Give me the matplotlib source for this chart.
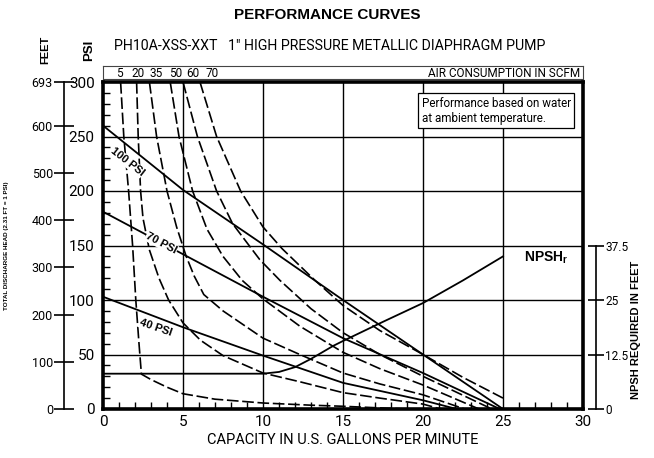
import matplotlib
matplotlib.use("Agg")
import matplotlib.pyplot as plt

# --- data (gpm, psi) ---
scfm_labels = ["5", "20", "35", "50", "60", "70"]

scfm5_x = [1.1, 1.3, 1.6, 1.85, 2.05, 2.25, 2.4, 3.0, 4.0, 5.0, 7.0, 10.0, 13.0, 15.0, 17.0, 19.0]
scfm5_y = [300, 250, 200, 150, 100, 60, 32, 27, 20, 14, 9, 5.5, 3.5, 2.5, 1.2, 0]

scfm20_x = [2.1, 2.2, 2.35, 2.5, 2.9, 3.5, 4.1, 5.0, 6.1, 7.5, 10.0, 12.3, 15.0, 17.3, 20.0, 21.1]
scfm20_y = [300, 250, 200, 175, 146, 120, 100, 79, 63, 49, 33, 25, 15, 10, 4.5, 0]

scfm35_x = [2.9, 3.35, 4.0, 4.6, 5.2, 5.7, 6.3, 7.5, 10.0, 12.3, 15.0, 17.3, 20.0, 22.6]
scfm35_y = [300, 250, 200, 167, 140, 122, 105, 90, 65, 50, 33, 23, 13, 0]

scfm50_x = [4.2, 4.75, 5.6, 6.5, 7.5, 8.7, 10.0, 12.3, 15.0, 17.3, 20.0, 23.5]
scfm50_y = [300, 250, 200, 165, 140, 118, 101, 76, 52, 37, 22, 0]

scfm60_x = [5.0, 5.9, 7.1, 8.1, 9.8, 11.06, 13.0, 15.0, 17.3, 20.0, 24.3]
scfm60_y = [300, 250, 200, 170, 137, 118, 92, 70, 50, 30, 0]

scfm70_x = [6.06, 7.1, 8.6, 10.0, 11.2, 13.25, 15.0, 17.3, 20.0, 22.5, 25.0]
scfm70_y = [300, 250, 200, 167, 147, 118, 95, 72, 50, 29, 10]

psi100_x = [0, 5, 10, 15, 20, 25]
psi100_y = [260, 201, 151, 100, 50, 0]
psi70_x = [0, 5, 10, 15, 20, 24.8]
psi70_y = [181, 142, 103, 65, 33, 0]
psi40_x = [0, 5, 10, 15, 20, 22.1]
psi40_y = [103, 75, 49, 24, 8, 0]

# NPSH required (gpm, feet)
npsh_x = [0, 10, 11, 12, 13, 14.4, 15, 17.5, 20, 22.5, 25]
npsh_y = [8.1, 8.1, 8.5, 9.6, 11.5, 14.5, 15.6, 20.0, 24.3, 29.5, 35.0]

feet_ticks = [0, 100, 200, 300, 400, 500, 600, 693]
npsh_ticks = [0, 12.5, 25, 37.5]

FT_PER_PSI = 2.31

REG = ['Roboto', 'DejaVu Sans']
BOLD = ['Liberation Sans', 'DejaVu Sans']

plt.rcParams['font.family'] = REG
plt.rcParams['axes.linewidth'] = 2.6

fig = plt.figure(figsize=(6.54, 4.58), dpi=100)
fig.set_facecolor('white')

ax = fig.add_axes([103/654, 49/458, 480/654, 327/458])
ax.set_xlim(0, 30)
ax.set_ylim(0, 300)

# grid
for g in range(5, 30, 5):
    ax.axvline(g, color='black', lw=1.0, zorder=1)
for g in range(50, 300, 50):
    ax.axhline(g, color='black', lw=1.0, zorder=1)

dash = (0, (7, 2.2))
curves = [(scfm5_x, scfm5_y), (scfm20_x, scfm20_y), (scfm35_x, scfm35_y),
          (scfm50_x, scfm50_y), (scfm60_x, scfm60_y), (scfm70_x, scfm70_y)]
for cx, cy in curves:
    ax.plot(cx, cy, color='black', lw=1.2, linestyle=dash, zorder=3)

for cx, cy in [(psi100_x, psi100_y), (psi70_x, psi70_y), (psi40_x, psi40_y)]:
    ax.plot(cx, cy, color='black', lw=1.3, zorder=3)

# pressure labels
lab_font = dict(fontsize=8, fontweight='bold', family=BOLD, ha='center', va='center',
                zorder=4, bbox=dict(boxstyle='square,pad=0.05', facecolor='white', edgecolor='none'))
ax.text(1.5, 227, "100 PSI", rotation=-38, **lab_font)
ax.text(3.65, 152, "70 PSI", rotation=-28, **lab_font)
ax.text(3.3, 75, "40 PSI", rotation=-19, **lab_font)

ax.text(27.7, 139, "NPSH$_\\mathregular{r}$", fontsize=10, fontweight='bold',
        family=BOLD, ha='center', va='center')

# note box
ax.text(0.664, 0.955, "Performance based on water\nat ambient temperature.",
        transform=ax.transAxes, fontsize=8.4, ha='left', va='top', linespacing=1.2,
        zorder=5,
        bbox=dict(boxstyle='square,pad=0.3', facecolor='white', edgecolor='black', lw=0.9))

# ticks on main axes
ax.set_xticks(range(0, 31, 5))
ax.set_xticks(range(0, 31, 1), minor=True)
ax.set_yticks(range(0, 301, 50))
ax.set_yticks(range(0, 301, 10), minor=True)
ax.tick_params(axis='both', which='major', direction='in', length=0, labelsize=11, pad=4)
ax.tick_params(axis='both', which='minor', direction='in', length=5, width=1)
ax.tick_params(axis='y', which='major', pad=6)
ax.tick_params(top=False, right=False, which='both')
ax.set_xlabel("CAPACITY IN U.S. GALLONS PER MINUTE", fontsize=10.5, labelpad=3)

# feet axis on the far left
axf = ax.twinx()
axf.set_ylim(0, 300 * FT_PER_PSI)
axf.yaxis.set_ticks_position('left')
axf.yaxis.set_label_position('left')
for s in ['top', 'right', 'bottom']:
    axf.spines[s].set_visible(False)
axf.spines['left'].set_position(('outward', 28))
axf.spines['left'].set_linewidth(1.2)
axf.set_yticks(feet_ticks)
axf.set_yticklabels([str(t) for t in feet_ticks])
axf.tick_params(axis='y', direction='inout', length=14, width=1.2, labelsize=9, pad=1)
axf.set_ylabel("TOTAL DISCHARGE HEAD (2.31 FT = 1 PSI)", fontsize=4.5, fontweight='bold',
               family=BOLD, labelpad=16)

# NPSH axis on the right
axn = ax.twinx()
axn.set_ylim(0, 75)
for s in ['top', 'left', 'bottom']:
    axn.spines[s].set_visible(False)
axn.spines['right'].set_position(('outward', 9))
axn.spines['right'].set_linewidth(1.2)
axn.spines['right'].set_bounds(0, 37.5)
axn.set_yticks(npsh_ticks)
axn.set_yticklabels(["0", "12.5", "25", "37.5"])
axn.tick_params(axis='y', direction='inout', length=12, width=1.2, labelsize=8.5, pad=1)
axn.plot(npsh_x, npsh_y, color='black', lw=1.3, zorder=3)
axn.set_xlim(0, 30)
fig.text(636/654, 1 - 330/458, "NPSH REQUIRED IN FEET", rotation=90, fontsize=8,
         fontweight='bold', family=BOLD, ha='center', va='center')

# air consumption strip
axa = fig.add_axes([103/654, 379/458, 480/654, 13/458])
axa.set_xlim(0, 30)
axa.set_ylim(0, 1)
axa.set_xticks([])
axa.set_yticks([])
for s in axa.spines.values():
    s.set_linewidth(0.8)
    s.set_edgecolor('#444444')
scfm_label_pos = [1.0, 2.2, 3.3, 4.55, 5.6, 6.8]
for lx, lt in zip(scfm_label_pos, scfm_labels):
    axa.text(lx, 0.45, lt, fontsize=8.5, ha='center', va='center')
axa.text(29.85, 0.45, "AIR CONSUMPTION IN SCFM", fontsize=8.5, ha='right', va='center')

# titles and axis headings
fig.text(327/654, 1 - 15/458, "PERFORMANCE CURVES", fontsize=11, fontweight='bold',
         family=BOLD, ha='center', va='center')
fig.text(330/654, 1 - 46/458, "PH10A-XSS-XXT   1\u2033 HIGH PRESSURE METALLIC DIAPHRAGM PUMP",
         fontsize=10.2, ha='center', va='center')
fig.text(45/654, 1 - 50/458, "FEET", rotation=90, fontsize=8, fontweight='bold',
         family=BOLD, ha='center', va='center')
fig.text(89/654, 1 - 50/458, "PSI", rotation=90, fontsize=9.5, fontweight='bold',
         family=BOLD, ha='center', va='center')

fig.savefig("out.png", dpi=100)
